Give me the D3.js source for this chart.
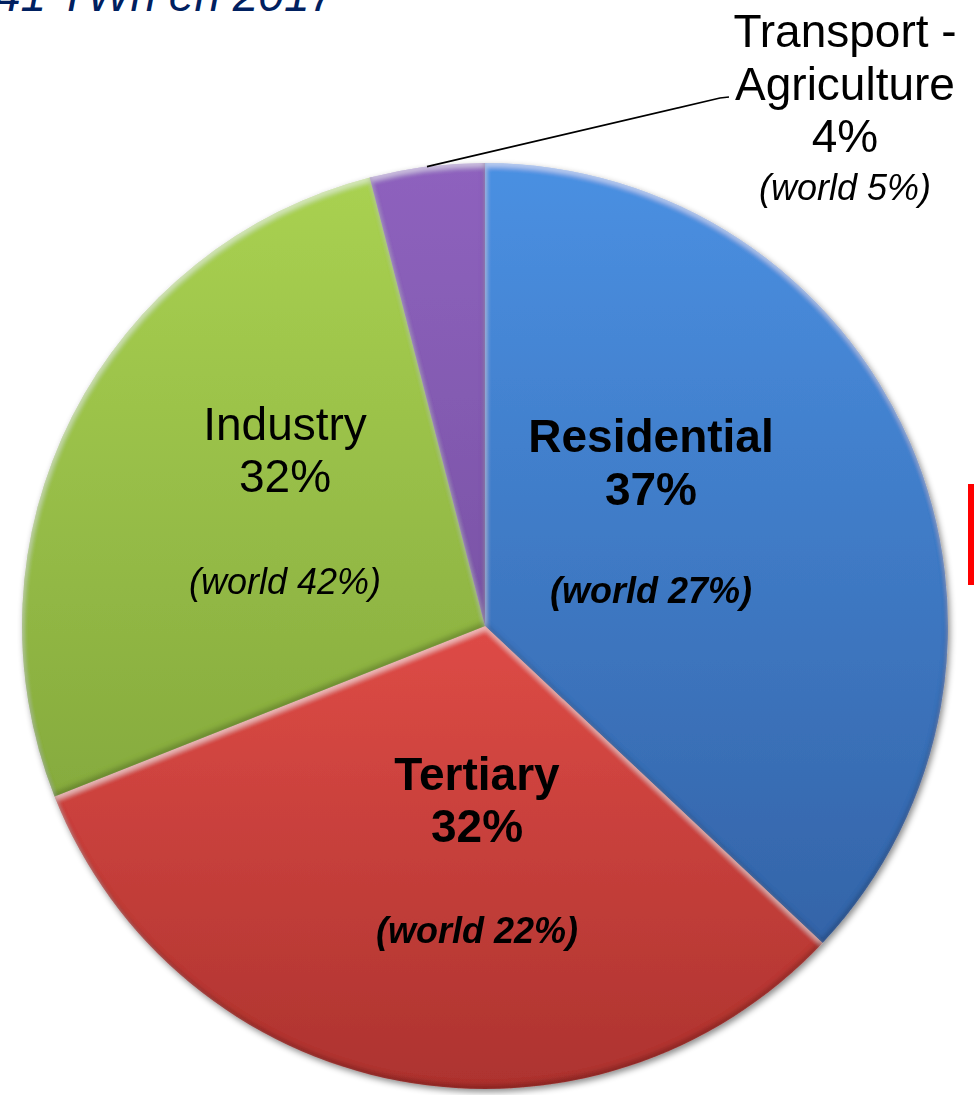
<!DOCTYPE html>
<html>
<head>
<meta charset="utf-8">
<script src="https://cdn.jsdelivr.net/npm/d3@7"></script>
<style>
  html, body { margin: 0; padding: 0; background: #fff; }
  svg { display: block; }
  text { font-family: "Liberation Sans", Arial, sans-serif; }
</style>
</head>
<body>
<svg id="chart" width="974" height="1095"></svg>
<script>
// ---- data ----
const categories = ["Residential", "Tertiary", "Industry", "Transport - Agriculture"];
const shares = [37, 32, 27, 4];                // angular share of each slice as drawn
const shareLabels = ["37%", "32%", "32%", "4%"]; // percentages printed on the chart
const worldLabels = ["(world 27%)", "(world 22%)", "(world 42%)", "(world 5%)"];
const titleText = "41 TWh en 2017";

// ---- layout / style ----
const W = 974, H = 1095;
const cx = 485, cy = 626, R = 463;
const colorTop = ["#4A90E2", "#DE4B46", "#A9D151", "#8E62BE"];
const colorBot = ["#3464A8", "#AD332F", "#86AB3E", "#7A54A6"];
// label blocks: offset of first baseline from pie centre, bold?, line baselines
const labelLayout = [
  { dx: 166, dy: -174, bold: true,  gaps: [0, 53, 151] },
  { dx: -8,  dy: 164,  bold: true,  gaps: [0, 52, 153] },
  { dx: -200,dy: -186, bold: false, gaps: [0, 52, 154] }
];

const svg = d3.select("#chart");
const defs = svg.append("defs");

shares.forEach((_, i) => {
  const g = defs.append("linearGradient").attr("id", "grad" + i)
    .attr("x1", 0).attr("y1", 0).attr("x2", 0).attr("y2", 1);
  g.append("stop").attr("offset", "0%").attr("stop-color", colorTop[i]);
  g.append("stop").attr("offset", "100%").attr("stop-color", colorBot[i]);
});

// drop shadow for the whole pie
const ds = defs.append("filter").attr("id", "shadow")
  .attr("x", "-10%").attr("y", "-10%").attr("width", "120%").attr("height", "120%");
ds.append("feDropShadow").attr("dx", 2).attr("dy", 3).attr("stdDeviation", 3)
  .attr("flood-color", "#000").attr("flood-opacity", 0.45);

// bevel for each slice
const bv = defs.append("filter").attr("id", "bevel")
  .attr("x", "-5%").attr("y", "-5%").attr("width", "110%").attr("height", "110%");
bv.append("feGaussianBlur").attr("in", "SourceAlpha").attr("stdDeviation", 2.5).attr("result", "blur");
bv.append("feOffset").attr("in", "blur").attr("dx", 1).attr("dy", 4).attr("result", "offDown");
bv.append("feComposite").attr("in", "SourceAlpha").attr("in2", "offDown").attr("operator", "out").attr("result", "hiMask");
bv.append("feFlood").attr("flood-color", "#fff").attr("flood-opacity", 0.45).attr("result", "white");
bv.append("feComposite").attr("in", "white").attr("in2", "hiMask").attr("operator", "in").attr("result", "hi");
bv.append("feOffset").attr("in", "blur").attr("dx", -1).attr("dy", -4).attr("result", "offUp");
bv.append("feComposite").attr("in", "SourceAlpha").attr("in2", "offUp").attr("operator", "out").attr("result", "shMask");
bv.append("feFlood").attr("flood-color", "#000").attr("flood-opacity", 0.4).attr("result", "black");
bv.append("feComposite").attr("in", "black").attr("in2", "shMask").attr("operator", "in").attr("result", "sh");
const merge = bv.append("feMerge");
merge.append("feMergeNode").attr("in", "SourceGraphic");
merge.append("feMergeNode").attr("in", "hi");
merge.append("feMergeNode").attr("in", "sh");

// ---- title (cut off at top of the frame, as in the source image) ----
svg.append("text")
  .attr("x", -5).attr("y", 11)
  .attr("font-size", 46).attr("font-style", "italic")
  .attr("fill", "#002060")
  .text(titleText);

// ---- pie ----
const pie = d3.pie().sort(null).value(d => d);
const arcs = pie(shares);
const arc = d3.arc().innerRadius(0).outerRadius(R);

const gPie = svg.append("g").attr("transform", `translate(${cx},${cy})`);
const shadowG = gPie.append("g").attr("filter", "url(#shadow)");
shadowG.selectAll("path.slice")
  .data(arcs).enter().append("path")
  .attr("class", "slice")
  .attr("d", arc)
  .attr("fill", (d, i) => `url(#grad${i})`)
  .attr("filter", "url(#bevel)");

// ---- labels inside slices ----
labelLayout.forEach((L, i) => {
  const items = [
    { txt: categories[i], y: L.dy + L.gaps[0], size: 46, italic: false },
    { txt: shareLabels[i], y: L.dy + L.gaps[1], size: 46, italic: false },
    { txt: worldLabels[i], y: L.dy + L.gaps[2], size: 36, italic: true }
  ];
  items.forEach(it => {
    gPie.append("text")
      .attr("x", L.dx).attr("y", it.y)
      .attr("text-anchor", "middle")
      .attr("font-size", it.size)
      .attr("font-weight", L.bold ? "bold" : "normal")
      .attr("font-style", it.italic ? "italic" : "normal")
      .attr("fill", "#000")
      .text(it.txt);
  });
});

// ---- outside label for the small slice ----
const small = arcs[3];
const mid = (small.startAngle + small.endAngle) / 2;
const p0 = [cx + R * Math.sin(mid), cy - R * Math.cos(mid)];
const labX = 845;
const p1 = [720, 98], p2 = [729, 97];
svg.append("path")
  .attr("d", d3.line()([p0, p1, p2]))
  .attr("fill", "none").attr("stroke", "#000").attr("stroke-width", 1.6);

const tName = categories[3].split(" - ");
const outLines = [
  { txt: tName[0] + " -", y: 47, size: 46, italic: false },
  { txt: tName[1], y: 100, size: 46, italic: false },
  { txt: shareLabels[3], y: 152, size: 46, italic: false },
  { txt: worldLabels[3], y: 200, size: 36, italic: true }
];
outLines.forEach(o => {
  svg.append("text")
    .attr("x", labX).attr("y", o.y)
    .attr("text-anchor", "middle")
    .attr("font-size", o.size)
    .attr("font-style", o.italic ? "italic" : "normal")
    .attr("fill", "#000")
    .text(o.txt);
});

// ---- red marker at the right edge ----
svg.append("rect")
  .attr("x", 968).attr("y", 484).attr("width", 12).attr("height", 101)
  .attr("fill", "#FF0000");
</script>
</body>
</html>
